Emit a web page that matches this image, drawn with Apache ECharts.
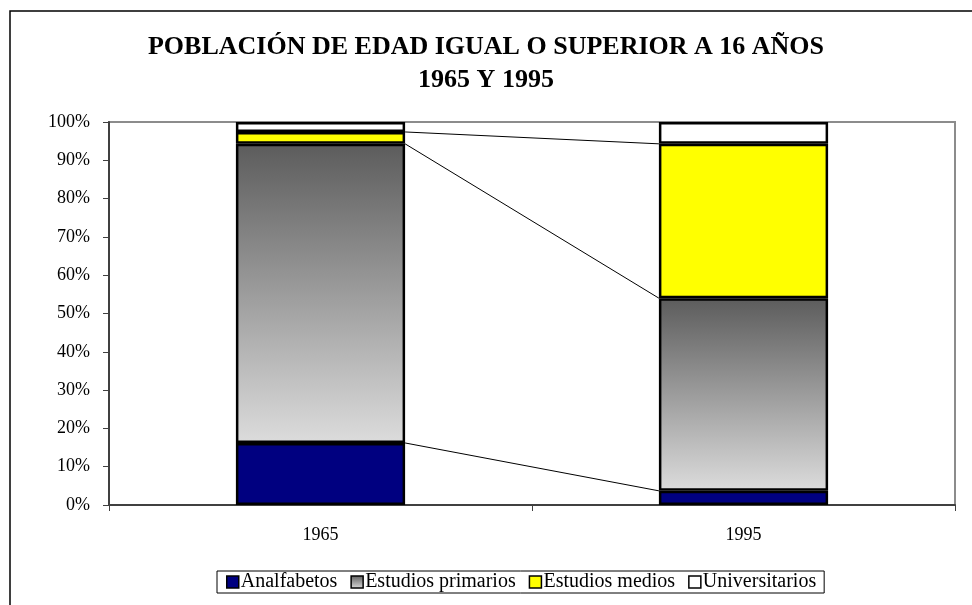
<!DOCTYPE html>
<html>
<head>
<meta charset="utf-8">
<script src="https://cdn.jsdelivr.net/npm/echarts@6/dist/echarts.min.js"></script>
<style>
    html, body { margin: 0; padding: 0; background: #fff; }
    #chart { width: 972px; height: 605px; }
</style>
</head>
<body>
<div id="chart"></div>
<script>
const years = ['1965', '1995'];
const seriesNames = ['Analfabetos', 'Estudios primarios', 'Estudios medios', 'Universitarios'];
const analfabetos = [16.2, 3.7];
const primarios = [78.1, 50.3];
const medios = [3.1, 40.3];
const universitarios = [2.6, 5.7];

const chart = echarts.init(document.getElementById('chart'));
const serif = 'Liberation Serif';

// fondo degradado de los estudios primarios
const grayFill = new echarts.graphic.LinearGradient(0, 0, 0, 1, [
    {offset: 0, color: '#5c5c5c'},
    {offset: 1, color: '#dcdcdc'}
]);

function barSeries(name, data, color) {
    return {
        name: name,
        type: 'bar',
        stack: 'total',
        barWidth: '40%',
        data: data,
        itemStyle: {color: color, borderColor: '#000', borderWidth: 2.5}
    };
}

// líneas de serie entre las dos columnas (tope acumulado de cada tramo)
const layers = [analfabetos, primarios, medios];
const connectData = [];
let acc = [0, 0];
layers.forEach(function (arr) {
    acc = [acc[0] + arr[0], acc[1] + arr[1]];
    connectData.push([0, acc[0], acc[1]]);
});

const option = {
    backgroundColor: '#fff',
    animation: false,
    title: {
        text: 'POBLACIÓN DE EDAD IGUAL O SUPERIOR A 16 AÑOS\n1965 Y 1995',
        left: 'center',
        top: 31,
        padding: 0,
        textStyle: {
            fontFamily: serif,
            fontWeight: 'bold',
            fontSize: 26,
            lineHeight: 33,
            color: '#000',
            align: 'center'
        }
    },
    graphic: [{
        type: 'rect',
        shape: {x: 10, y: 11, width: 1000, height: 1000},
        style: {fill: 'none', stroke: '#000', lineWidth: 1.5},
        silent: true,
        z: -1
    }],
    legend: {
        bottom: 12,
        left: 217,
        data: seriesNames,
        icon: 'rect',
        itemWidth: 12,
        itemHeight: 12,
        itemGap: 13,
        padding: [1, 8, 1, 9],
        borderColor: '#000',
        borderWidth: 1,
        itemStyle: {borderWidth: 1.5, borderColor: '#000'},
        textStyle: {fontFamily: serif, fontSize: 20, color: '#000', padding: [0, 0, 0, -3]}
    },
    grid: {
        left: 109,
        right: 17,
        top: 122,
        bottom: 100,
        show: true,
        borderColor: '#8c8c8c',
        borderWidth: 2
    },
    xAxis: {
        type: 'category',
        data: years,
        axisLine: {lineStyle: {color: '#404040', width: 2}},
        axisTick: {show: true, length: 6, lineStyle: {color: '#404040'}},
        axisLabel: {fontFamily: serif, fontSize: 18, color: '#000', margin: 21}
    },
    yAxis: {
        type: 'value',
        min: 0,
        max: 100,
        interval: 10,
        splitLine: {show: false},
        axisLine: {show: true, lineStyle: {color: '#404040', width: 2}},
        axisTick: {show: true, length: 6, lineStyle: {color: '#404040'}},
        axisLabel: {fontFamily: serif, fontSize: 18, color: '#000', margin: 19, formatter: '{value}%'}
    },
    series: [
        barSeries(seriesNames[0], analfabetos, '#000080'),
        barSeries(seriesNames[1], primarios, grayFill),
        barSeries(seriesNames[2], medios, '#ffff00'),
        barSeries(seriesNames[3], universitarios, '#ffffff'),
        {
            type: 'custom',
            silent: true,
            z: 1,
            encode: {x: 0, y: 1},
            data: connectData,
            renderItem: function (params, api) {
                const p1 = api.coord([0, api.value(1)]);
                const p2 = api.coord([1, api.value(2)]);
                const half = api.size([1, 0])[0] * 0.4 / 2;
                return {
                    type: 'line',
                    shape: {x1: p1[0] + half, y1: p1[1], x2: p2[0] - half, y2: p2[1]},
                    style: {stroke: '#000', lineWidth: 1}
                };
            }
        }
    ]
};

chart.setOption(option);
</script>
</body>
</html>
